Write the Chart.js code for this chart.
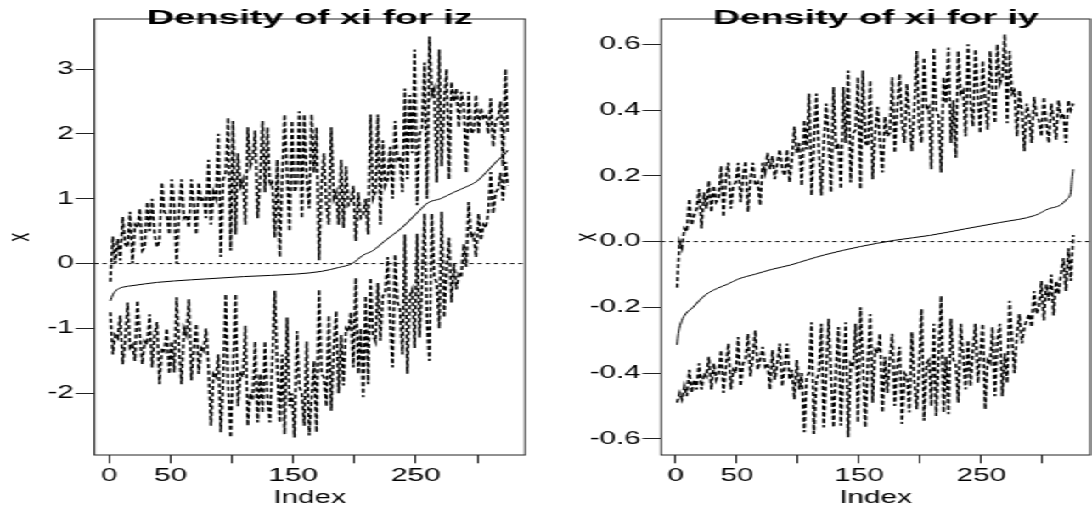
<!DOCTYPE html>
<html>
<head>
<meta charset="utf-8">
<script src="https://cdn.jsdelivr.net/npm/chart.js@4"></script>
<style>
  html, body { margin: 0; padding: 0; background: #fff; overflow: hidden; }
  /* the reference is a horizontally stretched R plot: draw narrow, then stretch */
  #wrap { position: absolute; left: 0; top: 0; width: 643px; height: 508px;
          transform: scaleX(1.69829); transform-origin: 0 0; }
  #wrap canvas { position: absolute; top: 0; }
</style>
</head>
<body>
<div id="wrap">
  <canvas id="left" width="321" height="508" style="left:0;width:321px;height:508px"></canvas>
  <canvas id="right" width="322" height="508" style="left:321px;width:322px;height:508px"></canvas>
</div>
<script>
// every second index, 1..325
const index = Array.from({ length: 163 }, (_, i) => 1 + 2 * i);

// ---- iz panel ----
const izUpper = [
  -0.28, 0.42, 0.0, 0.38, 0.05,     0.72, 0.3, 0.25, 0.8, 0.0,
  0.6, 0.55, 0.85, 0.2, 0.25,       0.95, 0.5, 1.0, 0.45, 0.25,
  0.35, 1.25, 0.8, 0.75, 0.45,      1.3, 0.9, 0.0, 0.8, 1.3,
  0.7, 0.75, 0.55, 1.3, 0.9,        0.45, 1.25, 0.95, 1.0, 0.7,
  1.6, 0.6, 1.1, 1.0, 2.0,          0.1, 1.3, 1.4, 2.25, 0.2,
  2.2, 0.45, 1.7, 1.2, 1.3,         0.6, 2.1, 1.5, 1.6, 2.05,
  0.7, 1.3, 2.2, 1.1, 2.1,          1.2, 1.25, 0.4, 1.6, 0.1,
  1.3, 2.3, 1.4, 0.5, 2.2,          1.1, 1.2, 2.35, 0.7, 2.3,
  1.3, 0.85, 2.3, 1.4, 2.1,         0.05, 1.2, 1.7, 0.9, 0.6,
  2.1, 1.0, 1.1, 0.6, 1.6,          0.55, 1.5, 0.9, 0.95, 1.2,
  0.35, 1.1, 0.7, 0.75, 1.0,        0.45, 2.3, 1.0, 1.1, 2.3,
  0.6, 1.9, 1.2, 1.3, 1.8,          1.0, 2.2, 1.6, 1.65, 1.1,
  2.7, 1.3, 2.6, 1.7, 3.3,          0.9, 2.0, 2.1, 3.1, 1.0,
  3.5, 2.6, 2.7, 1.25, 3.3,         1.5, 2.5, 3.0, 1.3, 2.8,
  2.5, 2.7, 2.1, 2.65, 2.45,        1.4, 2.65, 2.0, 2.05, 2.6,
  2.0, 2.4, 2.25, 2.3, 2.0,         2.55, 1.8, 2.2, 2.25, 2.5,
  1.5, 3.0, 2.0
];
const izLower = [
  -0.75, -1.4, -1.1, -1.15, -0.8,   -1.55, -1.2, -0.6, -1.3, -1.25,
  -1.5, -0.57, -1.1, -1.55, -1.2,   -1.25, -0.78, -1.6, -1.1, -0.9,
  -1.86, -1.3, -1.35, -1.0, -1.7,   -1.2, -1.68, -0.52, -1.3, -1.86,
  -1.0, -1.1, -0.55, -1.8, -1.3,    -0.93, -1.7, -1.3, -1.35, -1.0,
  -1.6, -2.5, -1.7, -1.75, -1.4,    -2.6, -1.8, -0.47, -1.9, -2.68,
  -1.6, -0.47, -2.2, -1.7, -1.75,   -0.96, -2.5, -2.0, -2.1, -1.2,
  -2.45, -1.7, -2.3, -1.2, -2.1,    -2.45, -1.5, -0.42, -1.6, -2.45,
  -1.4, -2.63, -0.83, -2.2, -2.0,   -2.68, -1.04, -1.9, -2.0, -2.5,
  -1.2, -2.65, -2.1, -1.5, -2.6,    -0.4, -1.7, -1.75, -2.2, -0.8,
  -2.27, -1.3, -0.73, -2.0, -1.1,   -1.88, -1.0, -1.05, -0.75, -1.6,
  -0.22, -1.7, -1.0, -2.06, -0.5,   -1.86, -0.22, -1.1, -1.2, -0.3,
  -1.19, -0.5, -0.45, 0.1, -0.9,    -1.6, 0.14, -0.6, -0.7, -1.4,
  0.45, -1.7, -0.5, -0.4, -1.3,     0.46, -1.14, -0.3, 0.77, -0.9,
  -1.5, 0.77, -0.2, -0.3, -1.0,     0.8, -0.83, -0.1, 0.4, -0.6,
  0.0, -0.4, -0.16, -0.2, 0.3,      -0.05, 0.95, 0.4, 0.45, 0.1,
  0.77, 0.36, 0.6, 0.55, 0.8,       1.41, 0.77, 1.1, 1.15, 1.4,
  0.97, 1.57, 1.2
];
const izMidIdx = [1, 3, 7, 12, 19, 39, 67, 110, 153, 173, 187, 198, 207, 215, 224, 239, 253, 260, 270, 281, 293, 299, 310, 316, 322, 325];
const izMid = [-0.575, -0.48, -0.395, -0.36, -0.34, -0.29, -0.25, -0.2, -0.16, -0.12, -0.06, 0.0, 0.13, 0.2, 0.34, 0.56, 0.82, 0.94, 1.0, 1.1, 1.2, 1.26, 1.46, 1.58, 1.68, 1.75];

// ---- iy panel ----
const iyUpper = [
  -0.14, 0.0, -0.02, 0.04, 0.03,    0.13, 0.05, 0.08, 0.1, 0.16,
  0.04, 0.15, 0.1, 0.185, 0.09,     0.17, 0.12, 0.13, 0.23, 0.075,
  0.2, 0.24, 0.1, 0.17, 0.18,       0.24, 0.12, 0.2, 0.245, 0.09,
  0.19, 0.24, 0.17, 0.18, 0.11,     0.24, 0.21, 0.27, 0.22, 0.26,
  0.19, 0.24, 0.28, 0.22, 0.2,      0.28, 0.18, 0.25, 0.35, 0.27,
  0.3, 0.17, 0.37, 0.28, 0.45,      0.14, 0.3, 0.45, 0.28, 0.14,
  0.3, 0.42, 0.31, 0.15, 0.47,      0.28, 0.3, 0.16, 0.47, 0.3,
  0.52, 0.18, 0.33, 0.34, 0.5,      0.16, 0.52, 0.3, 0.29, 0.49,
  0.19, 0.33, 0.41, 0.3, 0.21,      0.38, 0.32, 0.33, 0.5, 0.27,
  0.4, 0.51, 0.36, 0.3, 0.48,       0.38, 0.275, 0.4, 0.58, 0.35,
  0.3, 0.56, 0.4, 0.41, 0.22,       0.59, 0.4, 0.38, 0.21, 0.5,
  0.42, 0.59, 0.3, 0.43, 0.255,     0.58, 0.45, 0.46, 0.32, 0.6,
  0.42, 0.35, 0.585, 0.44, 0.33,    0.55, 0.43, 0.34, 0.58, 0.45,
  0.36, 0.6, 0.48, 0.5, 0.63,       0.36, 0.58, 0.45, 0.46, 0.32,
  0.46, 0.4, 0.275, 0.42, 0.38,     0.3, 0.44, 0.38, 0.37, 0.32,
  0.44, 0.36, 0.3, 0.42, 0.37,      0.31, 0.43, 0.38, 0.39, 0.3,
  0.43, 0.4, 0.42
];
const iyLower = [
  -0.49, -0.46, -0.48, -0.44, -0.47,   -0.39, -0.46, -0.42, -0.45, -0.37,
  -0.45, -0.4, -0.41, -0.35, -0.45,    -0.37, -0.42, -0.4, -0.33, -0.46,
  -0.38, -0.31, -0.45, -0.39, -0.4,    -0.29, -0.44, -0.37, -0.36, -0.28,
  -0.41, -0.35, -0.27, -0.39, -0.36,   -0.32, -0.38, -0.37, -0.45, -0.33,
  -0.42, -0.37, -0.31, -0.44, -0.38,   -0.31, -0.42, -0.39, -0.48, -0.36,
  -0.45, -0.4, -0.58, -0.41, -0.4,     -0.245, -0.585, -0.42, -0.4, -0.25,
  -0.565, -0.4, -0.235, -0.41, -0.565, -0.38, -0.26, -0.56, -0.39, -0.245,
  -0.595, -0.37, -0.38, -0.25, -0.55,  -0.2, -0.36, -0.565, -0.37, -0.22,
  -0.49, -0.33, -0.34, -0.28, -0.52,   -0.35, -0.46, -0.36, -0.28, -0.5,
  -0.38, -0.32, -0.555, -0.4, -0.41,   -0.52, -0.275, -0.42, -0.51, -0.38,
  -0.205, -0.545, -0.37, -0.36, -0.5,  -0.25, -0.53, -0.35, -0.165, -0.52,
  -0.35, -0.525, -0.235, -0.36, -0.37, -0.49, -0.25, -0.35, -0.45, -0.3,
  -0.44, -0.33, -0.25, -0.43, -0.34,   -0.25, -0.51, -0.36, -0.37, -0.26,
  -0.47, -0.3, -0.25, -0.47, -0.34,    -0.43, -0.18, -0.3, -0.4, -0.28,
  -0.22, -0.31, -0.26, -0.24, -0.22,   -0.26, -0.15, -0.22, -0.2, -0.12,
  -0.24, -0.13, -0.18, -0.1, -0.225,   -0.12, -0.16, -0.1, -0.05, -0.15,
  -0.02, -0.12, 0.02
];
const iyMidIdx = [1, 2, 5, 8, 14, 19, 25, 34, 42, 51, 65, 79, 94, 108, 122, 151, 179, 208, 237, 265, 294, 305, 314, 320, 323, 324, 325];
const iyMid = [-0.314, -0.28, -0.24, -0.22, -0.2, -0.18, -0.16, -0.142, -0.13, -0.114, -0.099, -0.084, -0.071, -0.055, -0.04, -0.015, 0.004, 0.019, 0.039, 0.058, 0.08, 0.1, 0.11, 0.13, 0.15, 0.19, 0.22];

const xTicks = [0, 50, 100, 150, 200, 250, 300];
const xLabelled = [0, 50, 150, 250];
const izTicks = [-2, -1, 0, 1, 2, 3];
const iyTicks = [-0.6, -0.4, -0.2, 0.0, 0.2, 0.4, 0.6];

const FONT = '"Liberation Sans", Arial, Helvetica, sans-serif';
const xMin = -12, xMax = 339;

const pts = (xs, ys) => ys.map((y, i) => ({ x: xs[i], y: y }));

// box, main title, axis titles (R style)
const frame = {
  id: 'frame',
  afterDatasetsDraw(chart, args, opts) {
    const { ctx, chartArea: a } = chart;
    ctx.save();
    ctx.strokeStyle = '#222';
    ctx.lineWidth = 1;
    ctx.strokeRect(a.left, a.top, a.right - a.left, a.bottom - a.top);
    const cx = (a.left + a.right) / 2;
    ctx.fillStyle = '#000';
    ctx.textAlign = 'center';
    ctx.textBaseline = 'alphabetic';
    // main title: the R title is wider than its height suggests
    ctx.font = 'bold 20px ' + FONT;
    const k = 192 / ctx.measureText(opts.title).width;
    ctx.save();
    ctx.translate(cx, 23.5);
    ctx.scale(k, 1);
    ctx.fillText(opts.title, 0, 0);
    ctx.restore();
    ctx.font = '17.5px ' + FONT;
    ctx.fillText('Index', cx, 502.5);
    ctx.translate(a.left - 43.5, (a.top + a.bottom) / 2);
    ctx.rotate(-Math.PI / 2);
    ctx.textBaseline = 'middle';
    ctx.fillText('x', 0, 0);
    ctx.restore();
  }
};

function makeChart(id, cfg) {
  const dashed = (data) => ({
    data: data, borderColor: '#000', borderWidth: 1.5, borderDash: [4, 2.5],
    pointRadius: 0, tension: 0
  });
  new Chart(document.getElementById(id), {
    type: 'line',
    data: {
      datasets: [
        { data: [{ x: xMin, y: 0 }, { x: xMax, y: 0 }], borderColor: '#000', borderWidth: 1,
          borderDash: [2.4, 2.4], pointRadius: 0 },
        dashed(pts(index, cfg.upper)),
        dashed(pts(index, cfg.lower)),
        { data: pts(cfg.midIdx, cfg.mid), borderColor: '#000', borderWidth: 1,
          pointRadius: 0, cubicInterpolationMode: 'monotone' }
      ]
    },
    options: {
      responsive: false,
      animation: false,
      events: [],
      layout: { padding: { top: 19, right: cfg.padRight, left: 0, bottom: 0 } },
      plugins: { legend: { display: false }, tooltip: { enabled: false }, frame: { title: cfg.title } },
      scales: {
        x: {
          type: 'linear', min: xMin, max: xMax,
          afterBuildTicks: (s) => { s.ticks = xTicks.map(v => ({ value: v })); },
          afterFit: (s) => { s.height = 53; },
          grid: { drawOnChartArea: false, drawTicks: true, tickLength: 8.3, color: '#222' },
          border: { display: false },
          ticks: {
            autoSkip: false, maxRotation: 0, padding: 2, color: '#000',
            font: { family: FONT, size: 17.5 },
            callback: (v) => (xLabelled.includes(v) ? String(v) : '')
          }
        },
        y: {
          type: 'linear', min: cfg.yMin, max: cfg.yMax,
          afterBuildTicks: (s) => { s.ticks = cfg.yTicks.map(v => ({ value: v })); },
          afterFit: (s) => { s.width = cfg.yWidth; },
          grid: { drawOnChartArea: false, drawTicks: true, tickLength: 11, color: '#222' },
          border: { display: false },
          ticks: {
            padding: 1, color: '#000',
            font: { family: FONT, size: 17.5 },
            callback: (v) => v.toFixed(cfg.digits)
          }
        }
      }
    },
    plugins: [frame]
  });
}

makeChart('left', {
  title: 'Density of xi for iz', upper: izUpper, lower: izLower, midIdx: izMidIdx, mid: izMid,
  yMin: -2.951, yMax: 3.771, yTicks: izTicks, digits: 0, yWidth: 55.6, padRight: 11.8
});
makeChart('right', {
  title: 'Density of xi for iy', upper: iyUpper, lower: iyLower, midIdx: iyMidIdx, mid: iyMid,
  yMin: -0.649, yMax: 0.677, yTicks: iyTicks, digits: 1, yWidth: 68.3, padRight: 1
});
</script>
</body>
</html>
